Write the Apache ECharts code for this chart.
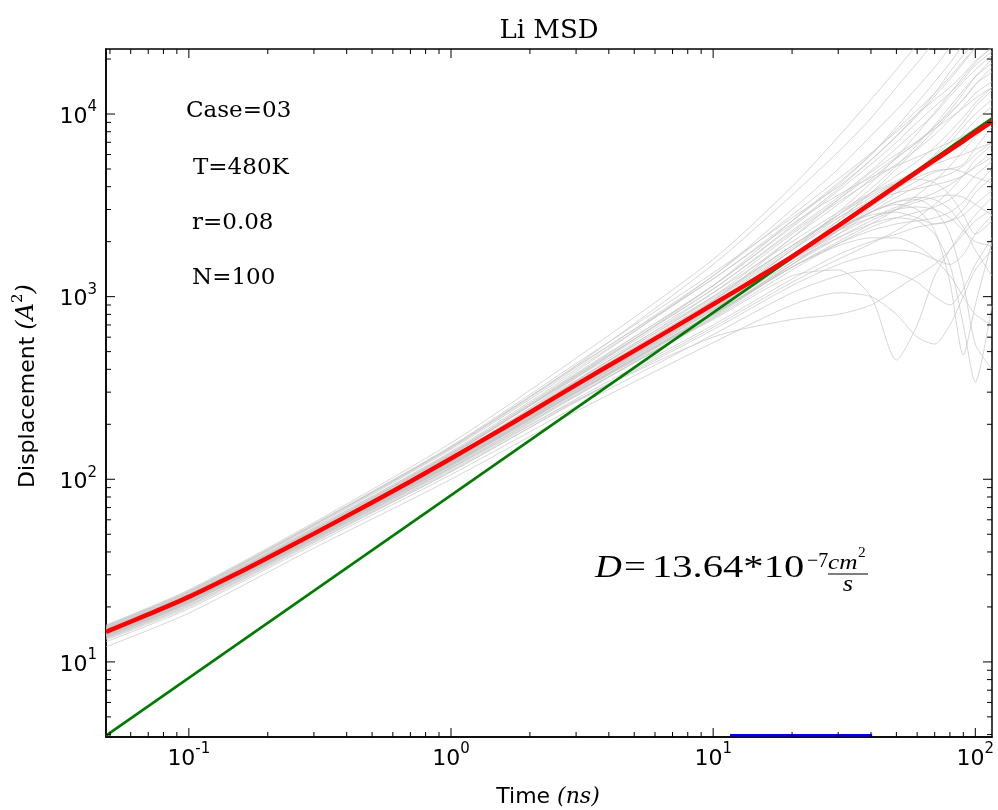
<!DOCTYPE html>
<html>
<head>
<meta charset="utf-8">
<script src="https://cdn.jsdelivr.net/npm/echarts@6/dist/echarts.min.js"></script>
<style>html,body{margin:0;padding:0;background:#fff;}#chart{width:998px;height:810px;}</style>
</head>
<body>
<div id="chart"></div>
<script>
// ---------- data ----------
const X_MIN = 0.0483, X_MAX = 115.8, Y_MIN = 3.88, Y_MAX = 22700;

const greyTime = [0.0483, 0.1, 0.3, 1, 3, 10, 20, 30, 40, 50, 60, 70, 80, 90, 100, 115.8];
const greyMSD = [
  [15.9, 24.8, 58, 158, 460, 1600, 4000, 7500, 12000, 17500, 24000, 31000, 38000, 45000, 52000, 60000],
  [15.5, 24, 56, 150, 420, 1500, 3600, 6200, 9500, 14000, 19000, 25000, 30000, 36000, 42000, 50000],
  [15, 23.5, 54, 142, 390, 1300, 3000, 5000, 7600, 10500, 14000, 18000, 23000, 27000, 31000, 36000],
  [14.5, 22, 50, 130, 360, 1150, 2600, 4200, 6000, 8200, 10500, 13000, 16000, 19500, 23000, 27000],
  [14.9, 23, 52, 135, 370, 1100, 2300, 3500, 4900, 6500, 8200, 10000, 12500, 15000, 17500, 21000],
  [14.2, 21.8, 49, 124, 320, 950, 2100, 3400, 4800, 6000, 7100, 8500, 10200, 12000, 14500, 18000],
  [15.2, 23.4, 53, 138, 360, 1000, 1900, 2800, 3700, 4600, 5500, 6600, 8000, 9600, 11500, 14000],
  [14.6, 22.4, 50, 126, 325, 880, 1700, 2500, 3200, 3900, 4700, 5600, 6600, 7800, 9200, 11000],
  [14.0, 21.5, 48, 120, 300, 800, 1500, 2200, 2900, 3500, 4000, 4400, 4700, 5200, 6000, 7000],
  [13.8, 21, 47, 116, 290, 760, 1400, 1950, 2400, 2700, 2900, 3100, 3400, 3900, 4600, 5500],
  [13.5, 20.5, 46, 112, 275, 700, 1250, 1700, 2000, 2200, 2400, 2500, 2600, 2800, 3200, 3800],
  [13.2, 20, 45, 110, 265, 660, 1150, 1500, 1700, 1800, 1750, 1600, 1500, 1700, 2200, 2800],
  [12.9, 19.6, 44, 106, 250, 620, 1050, 1300, 1400, 1350, 1200, 1000, 900, 1100, 1500, 2100],
  [12.1, 18.5, 42, 100, 235, 560, 900, 1050, 1000, 800, 600, 550, 700, 1000, 1400, 1800],
  [14.3, 22, 49, 122, 300, 750, 1300, 1400, 1000, 450, 700, 1300, 1800, 2300, 2800, 3500],
  [14.7, 22.6, 51, 127, 310, 820, 1550, 2100, 2500, 2700, 2600, 2200, 1500, 700, 340, 900],
  [14.4, 22.1, 50, 125, 315, 850, 1600, 2300, 2900, 3200, 3000, 2300, 1200, 480, 900, 2000],
  [13.7, 21, 47, 115, 270, 600, 750, 800, 900, 1100, 1300, 1500, 1800, 2200, 2600, 3000],
  [15.4, 23.8, 55, 146, 400, 1250, 2500, 3600, 4500, 5200, 5800, 6400, 7000, 7600, 8400, 9500],
  [15.8, 24.5, 57, 152, 430, 1350, 2700, 4000, 5600, 7500, 9800, 12500, 15500, 19000, 23000, 28000],
  [14.8, 22.8, 51, 129, 340, 950, 1850, 2800, 3900, 5200, 6800, 8700, 11000, 13500, 16000, 19000],
  [14.1, 21.6, 48, 121, 310, 880, 1800, 2700, 3500, 4200, 4800, 5300, 5700, 6000, 6400, 7000],
  [13.6, 20.8, 46.5, 114, 285, 780, 1550, 2300, 3000, 3700, 4300, 4800, 5000, 4800, 4500, 4200],
  [15.1, 23.2, 52, 133, 350, 980, 1900, 2700, 3300, 3700, 3900, 4100, 4300, 4600, 5200, 6200],
  [14.9, 22.9, 51.5, 131, 345, 1050, 2200, 3300, 4300, 5300, 6400, 7700, 9300, 11000, 13000, 15000],
  [14.3, 21.9, 49, 123, 315, 870, 1650, 2350, 2900, 3300, 3500, 3400, 3000, 2400, 1800, 1300],
  [14.0, 21.4, 48, 119, 300, 820, 1600, 2300, 2900, 3300, 3400, 3000, 2200, 1200, 550, 400],
  [15.3, 23.6, 54, 140, 375, 1150, 2400, 3800, 5300, 7000, 9000, 11000, 13000, 15500, 18500, 22000],
  [14.6, 22.5, 50.5, 128, 335, 930, 1800, 2600, 3400, 4200, 5000, 5900, 7000, 8500, 10000, 12000],
  [13.9, 21.2, 47.5, 118, 295, 790, 1450, 2000, 2500, 3000, 3600, 4300, 5200, 6300, 7500, 9000],
  [14.5, 22.2, 49.5, 125, 320, 890, 1700, 2400, 2800, 2900, 2700, 2500, 2600, 3000, 3700, 4500],
  [15.0, 23.1, 52.5, 136, 365, 1050, 2000, 2900, 3700, 4300, 4900, 5500, 6200, 7000, 8000, 9300],
  [14.2, 21.7, 48.5, 122, 305, 810, 1500, 2100, 2600, 3000, 3300, 3500, 3600, 3500, 3200, 2800],
  [14.7, 22.6, 51, 130, 345, 1000, 2100, 3200, 4400, 5700, 7000, 8300, 9500, 10800, 12200, 14000],
  [13.4, 20.3, 45.5, 110, 268, 680, 1200, 1600, 1950, 2300, 2700, 3200, 3800, 4600, 5600, 6800],
  [15.6, 24.2, 56, 148, 410, 1300, 2800, 4400, 6100, 8000, 10000, 12000, 14000, 16500, 19500, 23000],
  [14.4, 22.1, 49.5, 124, 318, 860, 1600, 2200, 2700, 3100, 3400, 3700, 4100, 4600, 5100, 5800],
  [14.8, 22.7, 51, 129, 335, 920, 1700, 2300, 2700, 3000, 3100, 3000, 2700, 2300, 2000, 1900],
  [13.9, 21.3, 47.8, 119, 298, 800, 1450, 1900, 2100, 2100, 1900, 1600, 1300, 1000, 800, 700],
  [15.2, 23.3, 53, 137, 370, 1100, 2250, 3400, 4600, 5800, 7000, 8500, 10500, 13000, 16000, 20000],
  [14.0, 21.5, 48, 121, 308, 850, 1650, 2450, 3200, 4000, 4900, 6000, 7400, 9000, 11000, 13500],
  [15.7, 24.3, 56.5, 150, 415, 1250, 2600, 4100, 6000, 8500, 11500, 15000, 19000, 24000, 29000, 36000],
  [15.1, 23.3, 53, 139, 380, 1150, 2450, 3900, 5600, 7600, 10000, 13000, 17000, 21000, 25000, 31000],
  [14.6, 22.4, 50.5, 127, 330, 900, 1800, 2900, 4200, 5800, 7800, 10200, 13000, 16000, 19000, 23500],
  [14.3, 21.9, 49, 122, 310, 840, 1650, 2600, 3700, 5000, 6500, 8200, 10000, 12000, 14500, 17000],
  [13.8, 21.1, 47, 116, 288, 770, 1500, 2300, 3100, 3900, 4500, 4900, 5000, 5300, 6500, 8500],
  [14.9, 22.9, 51.5, 131, 340, 960, 1900, 2800, 3600, 4200, 4400, 4200, 3600, 2800, 2200, 2600],
  [14.1, 21.6, 48.5, 120, 302, 800, 1450, 1950, 2300, 2500, 2600, 2700, 2900, 3300, 4000, 5000]
];

const meanTime = [0.0483, 0.07, 0.1, 0.15, 0.2, 0.3, 0.5, 0.7, 1, 1.5, 2, 3, 5, 7, 10, 15, 20, 30, 40, 50, 60, 70, 80, 90, 100, 115.8];
const meanMSD  = [14.6, 18.2, 22.7, 30.1, 37.2, 50.4, 74.6, 97.3, 130, 182, 232, 329, 505, 670, 908, 1285, 1656, 2443, 3243, 4036, 4823, 5598, 6353, 7112, 7907, 9100];

const fitTime = [0.0483, 115.8];
const fitMSD  = [3.95, 9470];

const rangeTime = [11.6, 40.4];
const rangeMSD  = [3.97, 3.97];

const xMajorTicks = [0.1, 1, 10, 100];
const xMinorTicks = [0.05, 0.06, 0.07, 0.08, 0.09, 0.2, 0.3, 0.4, 0.5, 0.6, 0.7, 0.8, 0.9,
                     2, 3, 4, 5, 6, 7, 8, 9, 20, 30, 40, 50, 60, 70, 80, 90];
const yMajorTicks = [10, 100, 1000, 10000];
const yMinorTicks = [4, 5, 6, 7, 8, 9, 20, 30, 40, 50, 60, 70, 80, 90,
                     200, 300, 400, 500, 600, 700, 800, 900,
                     2000, 3000, 4000, 5000, 6000, 7000, 8000, 9000, 20000];

const annotations = ['Case=03', 'T=480K', 'r=0.08', 'N=100'];

// ---------- build ----------
const zip = (xs, ys) => xs.map((x, i) => [x, ys[i]]);

const series = [];
greyMSD.forEach((ys, i) => {
  series.push({
    type: 'line', name: 'run' + i, data: zip(greyTime, ys),
    showSymbol: false, smooth: 0.25, silent: true, z: 2,
    lineStyle: { color: '#c4c4c4', width: 1, opacity: 0.7 }
  });
});
series.push({ type: 'line', data: zip(fitTime, fitMSD), showSymbol: false, silent: true, z: 3,
  lineStyle: { color: '#007a00', width: 2.6 } });
series.push({ type: 'line', data: zip(meanTime, meanMSD), showSymbol: false, smooth: 0.3, silent: true, z: 4,
  lineStyle: { color: '#ff0000', width: 4.5 } });
series.push({ type: 'line', data: zip(rangeTime, rangeMSD), showSymbol: false, silent: true, z: 5, clip: false,
  lineStyle: { color: '#0000ee', width: 2.5 } });

const tickData = [];
xMajorTicks.forEach(v => tickData.push([v, Y_MIN, 0, 9]));
xMinorTicks.forEach(v => tickData.push([v, Y_MIN, 0, 5]));
yMajorTicks.forEach(v => tickData.push([X_MIN, v, 1, 9]));
yMinorTicks.forEach(v => tickData.push([X_MIN, v, 1, 5]));

series.push({
  type: 'custom', data: tickData, clip: false, silent: true, z: 10,
  encode: { x: 0, y: 1 },
  renderItem: function (params, api) {
    const cs = params.coordSys;
    const kind = api.value(2), len = api.value(3);
    const st = { stroke: '#000', lineWidth: 1 };
    if (kind === 0) {
      const px = api.coord([api.value(0), Y_MIN])[0];
      const b = cs.y + cs.height, t = cs.y;
      return { type: 'group', children: [
        { type: 'line', shape: { x1: px, y1: b, x2: px, y2: b - len }, style: st },
        { type: 'line', shape: { x1: px, y1: t, x2: px, y2: t + len }, style: st }
      ]};
    } else {
      const py = api.coord([X_MIN, api.value(1)])[1];
      const l = cs.x, r = cs.x + cs.width;
      return { type: 'group', children: [
        { type: 'line', shape: { x1: l, y1: py, x2: l + len, y2: py }, style: st },
        { type: 'line', shape: { x1: r, y1: py, x2: r - len, y2: py }, style: st }
      ]};
    }
  }
});

function powLabel(v) {
  const lg = Math.log10(v), k = Math.round(lg);
  if (Math.abs(lg - k) > 1e-6) return '';
  return '{b|10}{s|' + (k < 0 ? '-' + (-k) : k) + '}';
}
const labelRich = {
  b: { fontFamily: 'DejaVu Sans', fontSize: 22, color: '#000', verticalAlign: 'bottom', lineHeight: 28 },
  s: { fontFamily: 'DejaVu Sans', fontSize: 15, color: '#000', verticalAlign: 'top', lineHeight: 28 }
};

const serif = '"DejaVu Serif"';
const mathSerif = '"Liberation Serif"';
const txt = (x, y, text, font, extra, align) => Object.assign({ type: 'text', x: x, y: y,
  style: { text: text, font: font, align: align || 'left', verticalAlign: 'middle', fill: '#000' } }, extra || {});

const graphic = [
  txt(549, 31, 'Li MSD', '26px ' + serif, {}, 'center'),
  txt(186, 111, annotations[0], '23px ' + serif),
  txt(193, 168, annotations[1], '23px ' + serif),
  txt(192, 223, annotations[2], '23px ' + serif),
  txt(192, 278, annotations[3], '23px ' + serif),
  // formula
  txt(595, 569, 'D', 'italic 31px ' + mathSerif, { scaleX: 1.2 }),
  txt(624, 569, '=', '31px ' + mathSerif, { scaleX: 1.25 }),
  txt(652, 569, '13.64*10', '31px ' + mathSerif, { scaleX: 1.31 }),
  txt(807, 561, '\u22127', '21px ' + mathSerif, { scaleX: 0.95 }),
  txt(828, 563, 'cm', 'italic 22px ' + mathSerif, { scaleX: 1.15 }),
  txt(858, 553, '2', '14px ' + mathSerif, { scaleX: 1.1 }),
  { type: 'line', shape: { x1: 828, y1: 574, x2: 868, y2: 574 }, style: { stroke: '#000', lineWidth: 1.2 } },
  txt(848, 585, 's', 'italic 23px ' + mathSerif, { scaleX: 1.15 }, 'center'),
  // axis names
  { type: 'text', x: 548, y: 797, style: {
      text: '{a|Time }{i|(ns)}', align: 'center', verticalAlign: 'middle',
      rich: { a: { fontFamily: 'DejaVu Sans', fontSize: 22, fill: '#000' },
              i: { fontFamily: 'DejaVu Serif', fontStyle: 'italic', fontSize: 22, fill: '#000' } } } },
  { type: 'text', x: 25, y: 386, rotation: Math.PI / 2, style: {
      text: '{a|Displacement }{i|(A}{s|2}{i|)}', align: 'center', verticalAlign: 'middle',
      rich: { a: { fontFamily: 'DejaVu Sans', fontSize: 22, fill: '#000', verticalAlign: 'bottom', lineHeight: 28 },
              i: { fontFamily: 'DejaVu Serif', fontStyle: 'italic', fontSize: 24, fill: '#000', verticalAlign: 'bottom', lineHeight: 28 },
              s: { fontFamily: 'DejaVu Serif', fontSize: 15, fill: '#000', verticalAlign: 'top', lineHeight: 28 } } } }
];

const chart = echarts.init(document.getElementById('chart'), null, { renderer: 'canvas' });
chart.setOption({
  animation: false,
  backgroundColor: '#fff',
  grid: { left: 106, top: 49, width: 886, height: 688, show: true, borderColor: '#000', borderWidth: 1.5, backgroundColor: '#fff' },
  xAxis: {
    type: 'log', logBase: 10, min: X_MIN, max: X_MAX,
    axisLine: { show: true, lineStyle: { color: '#000', width: 1.5 } },
    axisTick: { show: false }, splitLine: { show: false }, minorTick: { show: false },
    axisLabel: { margin: 5, formatter: powLabel, rich: labelRich, showMinLabel: true, showMaxLabel: true, hideOverlap: false }
  },
  yAxis: {
    type: 'log', logBase: 10, min: Y_MIN, max: Y_MAX,
    axisLine: { show: true, lineStyle: { color: '#000', width: 1.5 } },
    axisTick: { show: false }, splitLine: { show: false }, minorTick: { show: false },
    axisLabel: { margin: 9, formatter: powLabel, rich: labelRich, showMinLabel: true, showMaxLabel: true, hideOverlap: false }
  },
  graphic: graphic,
  series: series
});
</script>
</body>
</html>
